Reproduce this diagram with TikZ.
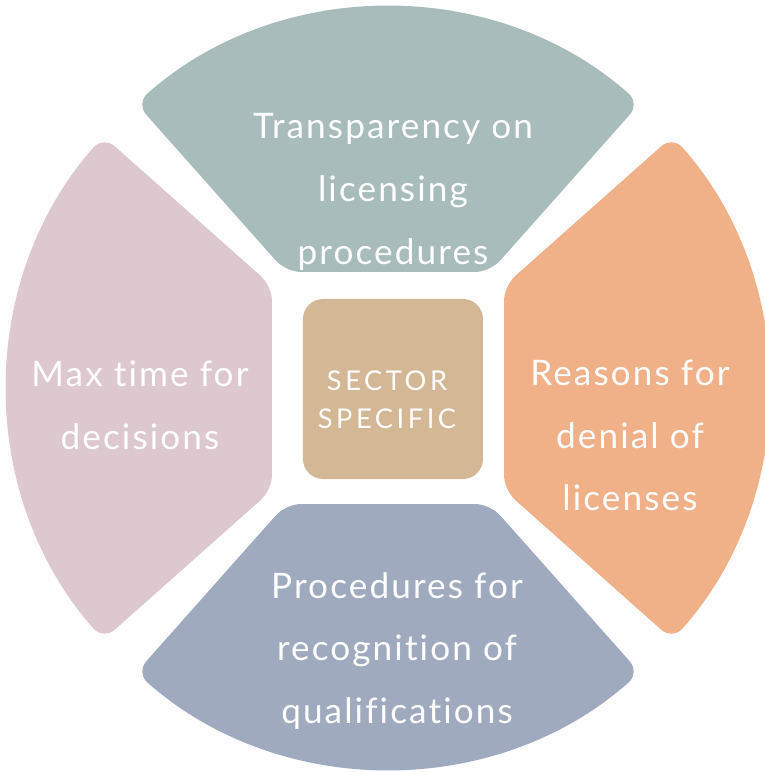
\documentclass[tikz,border=0pt]{standalone}
\usepackage{fontspec}
\setmainfont{Lato}[LetterSpace=6, Ligatures=NoCommon]
\newfontfamily\corefont{Lato}[LetterSpace=13, Ligatures=NoCommon]
\usepackage{tikz}
\usetikzlibrary{positioning, calc}
\usepackage{xcolor}
\definecolor{segTop}{HTML}{A8BCBC}
\definecolor{segLeft}{HTML}{DCC8CE}
\definecolor{segRight}{HTML}{F0B088}
\definecolor{segBottom}{HTML}{A0AABE}
\definecolor{segCenter}{HTML}{D4B896}

\begin{document}
\begin{tikzpicture}[
        segment/.style={rounded corners=0.3cm},
        label/.style={text=white, align=center, font=\fontsize{20}{35.7}\selectfont},
        core/.style={text=white, align=center, font=\corefont\fontsize{15.5}{21.7}\selectfont}
    ]
        \useasboundingbox (-7.76,-7.68) rectangle (7.54,7.76);

        % Draw the four segments
        \foreach \ang/\col in {0/segTop, 90/segLeft, 180/segBottom, 270/segRight}{
            \fill[\col, segment, rotate=\ang]
                (48.5:7.6) arc[start angle=48.5, end angle=131.5, radius=7.6]
                -- (-2.04,2.32) -- (2.04,2.32) -- cycle;
        }

        % Draw the centre box
        \fill[segCenter, rounded corners=0.4cm] (-1.7,-1.82) rectangle (1.9,1.78);

        % Labels
        \node[label] (transparency) at (0.1,3.92) {Transparency on\\licensing\\procedures};
        \node[label] (maxtime) at (-4.96,-0.34) {Max time for\\decisions};
        \node[label] (reasons) at (4.84,-0.95) {Reasons for\\denial of\\licenses};
        \node[label] (recognition) at (0.18,-5.26) {Procedures for\\recognition of\\qualifications};
        \node[core] (sector) at (-0.02,-0.23) {SECTOR\\SPECIFIC};
    \end{tikzpicture}
\end{document}
